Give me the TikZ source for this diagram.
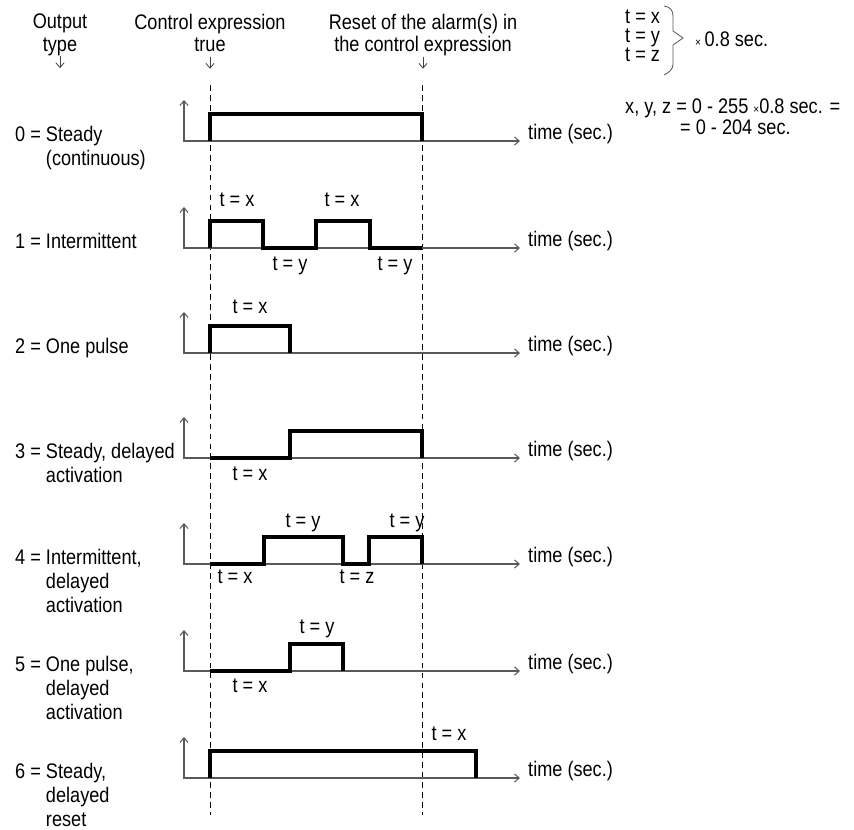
\documentclass[tikz,border=0pt]{standalone}
\usepackage{fontspec}
\setmainfont{Liberation Sans}[FakeStretch=0.86]
\usepackage{tikz}
\usetikzlibrary{calc}
\usetikzlibrary{arrows.meta}

\newcommand{\tinyx}{{\fontsize{10}{10}\selectfont ×}}

\tikzset{
  lbl/.style={inner sep=0pt, font=\fontsize{18}{20.5}\selectfont},
  hdr/.style={inner sep=0pt, font=\fontsize{18}{19}\selectfont, align=center, anchor=north, text depth=4pt},
  tval/.style={lbl, anchor=base},
  axisline/.style={draw=black!65, line width=0.9pt},
  pulseline/.style={draw=black, line width=2.6pt, line join=miter},
  markerline/.style={draw=black, line width=0.8pt, dash pattern=on 5pt off 3.5pt},
  hintline/.style={draw=black!75, line width=0.7pt}
}

\begin{document}
\begin{tikzpicture}[>={Straight Barb[length=4pt,width=7pt]}, x=0.03cm, y=-0.03cm]
\useasboundingbox (0,0) rectangle (854,830);

% column headings
\node[name=hdr_type, hdr] at (60,14) {Output\\type};
\node[name=hdr_ctrl, hdr] at (210,14) {Control expression\\true};
\node[name=hdr_reset, hdr] at (423,14) {Reset of the alarm(s) in\\the control expression};
\coordinate (type_tip) at ($(hdr_type.south)+(0,12)$);
\coordinate (ctrl_tip) at ($(hdr_ctrl.south)+(0,12)$);
\coordinate (reset_tip) at ($(hdr_reset.south)+(0,12)$);
\draw[hintline,->] (hdr_type.south) -- (type_tip);
\draw[hintline,->] (hdr_ctrl.south) -- (ctrl_tip);
\draw[hintline,->] (hdr_reset.south) -- (reset_tip);

% time markers
\coordinate (ctrl_top) at (210,85);
\coordinate (ctrl_bot) at (210,815);
\coordinate (reset_top) at (422,85);
\coordinate (reset_bot) at (422,815);
\draw[markerline] (ctrl_top) -- (ctrl_bot);
\draw[markerline] (reset_top) -- (reset_bot);

% legend
\node[name=leg_x, lbl, anchor=base west] at (625,23) {t = x};
\node[name=leg_y, lbl, anchor=base west] at (625,42) {t = y};
\node[name=leg_z, lbl, anchor=base west] at (625,61) {t = z};
\draw[axisline, line width=0.7pt] (664,6) .. controls (670,7) and (673,10) .. (673,16) -- (673,31) -- (683,38)
  -- (673,45) -- (673,64) .. controls (673,69) and (670,72) .. (664,75);
\node[name=factor, lbl, anchor=base west] at (695,46) {\tinyx\,0.8 sec.};
\node[name=range_1, lbl, anchor=base west] at (625,113) {x, y, z = 0 - 255 \tinyx0.8 sec. =};
\node[name=range_2, lbl, anchor=base west] at (680,134) {= 0 - 204 sec.};

% 0 = steady
\begin{scope}[shift={(0,141)}]
\node[name=type_0, lbl, anchor=base west] at (15,0) {0 = \begin{tabular}[t]{@{}l@{}}Steady\\(continuous)\end{tabular}};
\draw[axisline,<->] (184,-41) -- (184,0) -- (520,0);
\draw[pulseline] (210,0) -- (210,-27) -- (422,-27) -- (422,0);
\node[name=time_0, lbl, anchor=base west] at (528,-2) {time (sec.)};
\end{scope}

% 1 = intermittent
\begin{scope}[shift={(0,248)}]
\node[name=type_1, lbl, anchor=base west] at (15,0) {1 = Intermittent};
\draw[axisline,<->] (184,-41) -- (184,0) -- (520,0);
\draw[pulseline] (210,0) -- (210,-27) -- (263,-27) -- (263,0) -- (316,0) -- (316,-27) -- (370,-27) -- (370,0) -- (422,0);
\node[name=time_1, lbl, anchor=base west] at (528,-2) {time (sec.)};
\node[name=dur_1_x1, tval] at (237,-42) {t = x};
\node[name=dur_1_x2, tval] at (342,-42) {t = x};
\node[name=dur_1_y1, tval] at (290,22) {t = y};
\node[name=dur_1_y2, tval] at (395,22) {t = y};
\end{scope}

% 2 = one pulse
\begin{scope}[shift={(0,353)}]
\node[name=type_2, lbl, anchor=base west] at (15,0) {2 = One pulse};
\draw[axisline,<->] (184,-41) -- (184,0) -- (520,0);
\draw[pulseline] (210,0) -- (210,-27) -- (290,-27) -- (290,0);
\node[name=time_2, lbl, anchor=base west] at (528,-2) {time (sec.)};
\node[name=dur_2_x, tval] at (250,-40) {t = x};
\end{scope}

% 3 = steady, delayed activation
\begin{scope}[shift={(0,458)}]
\node[name=type_3, lbl, anchor=base west] at (15,0) {3 = \begin{tabular}[t]{@{}l@{}}Steady, delayed\\activation\end{tabular}};
\draw[axisline,<->] (184,-41) -- (184,0) -- (520,0);
\draw[pulseline] (210,0) -- (290,0) -- (290,-27) -- (422,-27) -- (422,0);
\node[name=time_3, lbl, anchor=base west] at (528,-2) {time (sec.)};
\node[name=dur_3_x, tval] at (250,22) {t = x};
\end{scope}

% 4 = intermittent, delayed activation
\begin{scope}[shift={(0,564)}]
\node[name=type_4, lbl, anchor=base west] at (15,0) {4 = \begin{tabular}[t]{@{}l@{}}Intermittent,\\delayed\\activation\end{tabular}};
\draw[axisline,<->] (184,-41) -- (184,0) -- (520,0);
\draw[pulseline] (210,0) -- (264,0) -- (264,-27) -- (343,-27) -- (343,0) -- (369,0) -- (369,-27) -- (422,-27) -- (422,0);
\node[name=time_4, lbl, anchor=base west] at (528,-2) {time (sec.)};
\node[name=dur_4_x, tval] at (235,19) {t = x};
\node[name=dur_4_y1, tval] at (303,-37) {t = y};
\node[name=dur_4_z, tval] at (357,19) {t = z};
\node[name=dur_4_y2, tval] at (407,-37) {t = y};
\end{scope}

% 5 = one pulse, delayed activation
\begin{scope}[shift={(0,671)}]
\node[name=type_5, lbl, anchor=base west] at (15,0) {5 = \begin{tabular}[t]{@{}l@{}}One pulse,\\delayed\\activation\end{tabular}};
\draw[axisline,<->] (184,-41) -- (184,0) -- (520,0);
\draw[pulseline] (210,0) -- (290,0) -- (290,-27) -- (343,-27) -- (343,0);
\node[name=time_5, lbl, anchor=base west] at (528,-2) {time (sec.)};
\node[name=dur_5_y, tval] at (317,-38) {t = y};
\node[name=dur_5_x, tval] at (250,21) {t = x};
\end{scope}

% 6 = steady, delayed reset
\begin{scope}[shift={(0,778)}]
\node[name=type_6, lbl, anchor=base west] at (15,0) {6 = \begin{tabular}[t]{@{}l@{}}Steady,\\delayed\\reset\end{tabular}};
\draw[axisline,<->] (184,-41) -- (184,0) -- (520,0);
\draw[pulseline] (210,0) -- (210,-27) -- (476,-27) -- (476,0);
\node[name=time_6, lbl, anchor=base west] at (528,-2) {time (sec.)};
\node[name=dur_6_x, tval] at (449,-38) {t = x};
\end{scope}
\end{tikzpicture}
\end{document}
